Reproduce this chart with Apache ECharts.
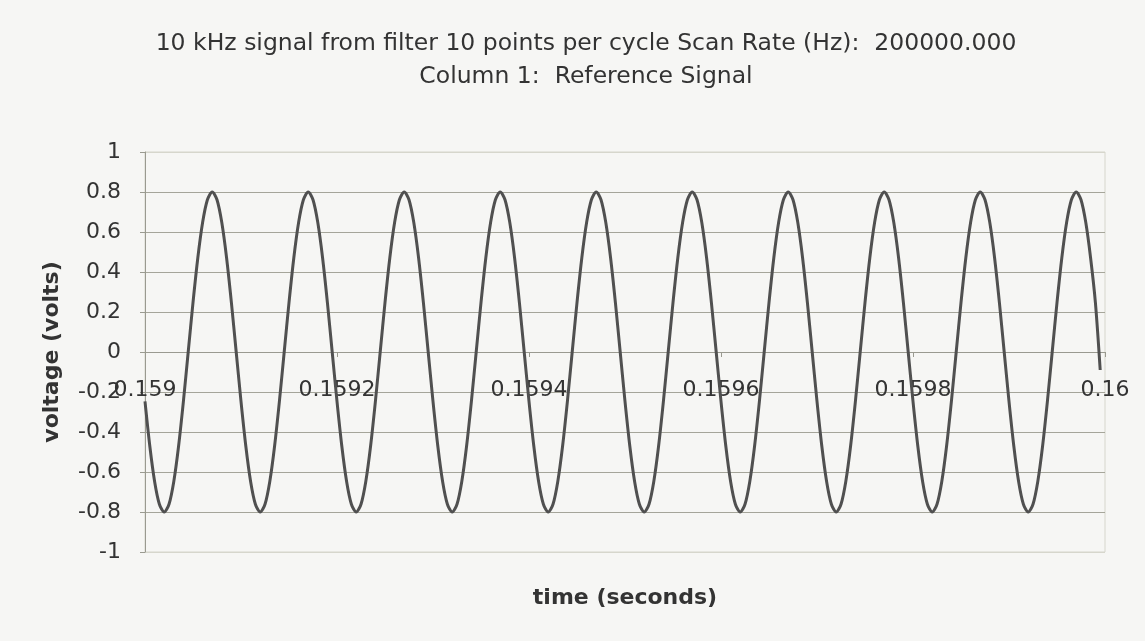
<!DOCTYPE html>
<html>
<head>
<meta charset="utf-8">
<script src="https://cdn.jsdelivr.net/npm/echarts@6/dist/echarts.min.js"></script>
<style>
html, body { margin: 0; padding: 0; background: #f6f6f4; }
#chart { width: 1145px; height: 641px; }
</style>
</head>
<body>
<div id="chart"></div>
<script>
// titles
var titleLines = ['10 kHz signal from filter 10 points per cycle Scan Rate (Hz):  200000.000', 'Column 1:  Reference Signal'];
var xName = 'time (seconds)';
var yName = 'voltage (volts)';

// time column (seconds), one sample every 5 us
var times = [
  0.159000, 0.159005, 0.159010, 0.159015, 0.159020, 0.159025, 0.159030, 0.159035, 0.159040, 0.159045, 0.159050, 0.159055, 0.159060, 0.159065, 0.159070, 0.159075, 0.159080, 0.159085, 0.159090, 0.159095,
  0.159100, 0.159105, 0.159110, 0.159115, 0.159120, 0.159125, 0.159130, 0.159135, 0.159140, 0.159145, 0.159150, 0.159155, 0.159160, 0.159165, 0.159170, 0.159175, 0.159180, 0.159185, 0.159190, 0.159195,
  0.159200, 0.159205, 0.159210, 0.159215, 0.159220, 0.159225, 0.159230, 0.159235, 0.159240, 0.159245, 0.159250, 0.159255, 0.159260, 0.159265, 0.159270, 0.159275, 0.159280, 0.159285, 0.159290, 0.159295,
  0.159300, 0.159305, 0.159310, 0.159315, 0.159320, 0.159325, 0.159330, 0.159335, 0.159340, 0.159345, 0.159350, 0.159355, 0.159360, 0.159365, 0.159370, 0.159375, 0.159380, 0.159385, 0.159390, 0.159395,
  0.159400, 0.159405, 0.159410, 0.159415, 0.159420, 0.159425, 0.159430, 0.159435, 0.159440, 0.159445, 0.159450, 0.159455, 0.159460, 0.159465, 0.159470, 0.159475, 0.159480, 0.159485, 0.159490, 0.159495,
  0.159500, 0.159505, 0.159510, 0.159515, 0.159520, 0.159525, 0.159530, 0.159535, 0.159540, 0.159545, 0.159550, 0.159555, 0.159560, 0.159565, 0.159570, 0.159575, 0.159580, 0.159585, 0.159590, 0.159595,
  0.159600, 0.159605, 0.159610, 0.159615, 0.159620, 0.159625, 0.159630, 0.159635, 0.159640, 0.159645, 0.159650, 0.159655, 0.159660, 0.159665, 0.159670, 0.159675, 0.159680, 0.159685, 0.159690, 0.159695,
  0.159700, 0.159705, 0.159710, 0.159715, 0.159720, 0.159725, 0.159730, 0.159735, 0.159740, 0.159745, 0.159750, 0.159755, 0.159760, 0.159765, 0.159770, 0.159775, 0.159780, 0.159785, 0.159790, 0.159795,
  0.159800, 0.159805, 0.159810, 0.159815, 0.159820, 0.159825, 0.159830, 0.159835, 0.159840, 0.159845, 0.159850, 0.159855, 0.159860, 0.159865, 0.159870, 0.159875, 0.159880, 0.159885, 0.159890, 0.159895,
  0.159900, 0.159905, 0.159910, 0.159915, 0.159920, 0.159925, 0.159930, 0.159935, 0.159940, 0.159945, 0.159950, 0.159955, 0.159960, 0.159965, 0.159970, 0.159975, 0.159980, 0.159985, 0.159990, 0.159995
];

// reference signal (volts)
var volts = [
  -0.247, -0.470, -0.647, -0.761, -0.800, -0.761, -0.647, -0.470, -0.247, 0.000, 0.247, 0.470, 0.647, 0.761, 0.800, 0.761, 0.647, 0.470, 0.247, 0.000,
  -0.247, -0.470, -0.647, -0.761, -0.800, -0.761, -0.647, -0.470, -0.247, 0.000, 0.247, 0.470, 0.647, 0.761, 0.800, 0.761, 0.647, 0.470, 0.247, 0.000,
  -0.247, -0.470, -0.647, -0.761, -0.800, -0.761, -0.647, -0.470, -0.247, 0.000, 0.247, 0.470, 0.647, 0.761, 0.800, 0.761, 0.647, 0.470, 0.247, 0.000,
  -0.247, -0.470, -0.647, -0.761, -0.800, -0.761, -0.647, -0.470, -0.247, 0.000, 0.247, 0.470, 0.647, 0.761, 0.800, 0.761, 0.647, 0.470, 0.247, 0.000,
  -0.247, -0.470, -0.647, -0.761, -0.800, -0.761, -0.647, -0.470, -0.247, 0.000, 0.247, 0.470, 0.647, 0.761, 0.800, 0.761, 0.647, 0.470, 0.247, 0.000,
  -0.247, -0.470, -0.647, -0.761, -0.800, -0.761, -0.647, -0.470, -0.247, 0.000, 0.247, 0.470, 0.647, 0.761, 0.800, 0.761, 0.647, 0.470, 0.247, 0.000,
  -0.247, -0.470, -0.647, -0.761, -0.800, -0.761, -0.647, -0.470, -0.247, 0.000, 0.247, 0.470, 0.647, 0.761, 0.800, 0.761, 0.647, 0.470, 0.247, 0.000,
  -0.247, -0.470, -0.647, -0.761, -0.800, -0.761, -0.647, -0.470, -0.247, 0.000, 0.247, 0.470, 0.647, 0.761, 0.800, 0.761, 0.647, 0.470, 0.247, 0.000,
  -0.247, -0.470, -0.647, -0.761, -0.800, -0.761, -0.647, -0.470, -0.247, 0.000, 0.247, 0.470, 0.647, 0.761, 0.800, 0.761, 0.647, 0.470, 0.247, 0.000,
  -0.247, -0.470, -0.647, -0.761, -0.800, -0.761, -0.647, -0.470, -0.247, 0.000, 0.247, 0.470, 0.647, 0.761, 0.800, 0.761, 0.647, 0.470, 0.247, -0.090
];

var points = times.map(function (t, i) { return [t, volts[i]]; });

var chart = echarts.init(document.getElementById('chart'));
var font = '"DejaVu Sans", sans-serif';

// gridlines from -1 up to 1; the outer two are the faint plot border
var gridColors = ['#d6d6cc', '#a5a59a', '#a5a59a', '#a5a59a', '#a5a59a', '#a5a59a',
                  '#a5a59a', '#a5a59a', '#a5a59a', '#a5a59a', '#d6d6cc'];

var titleStyle = { fill: '#333', font: 'normal 23.5px "DejaVu Sans", sans-serif', align: 'center', verticalAlign: 'middle' };

var option = {
  backgroundColor: '#f6f6f4',
  animation: false,
  // two centred title lines, sitting a little right of the page centre like the original
  graphic: [
    { type: 'text', x: 586, y: 44, style: Object.assign({ text: titleLines[0] }, titleStyle) },
    { type: 'text', x: 586, y: 77, style: Object.assign({ text: titleLines[1] }, titleStyle) }
  ],
  grid: {
    left: 145,
    right: 40,
    top: 152,
    bottom: 89,
    outerBoundsMode: 'none',
    containLabel: false,
    show: true,
    borderColor: '#d6d6cc',
    borderWidth: 1
  },
  xAxis: {
    type: 'value',
    min: 0.159,
    max: 0.16,
    interval: 0.0002,
    // the axis crosses at y = 0, half way up the plot
    offset: -200,
    name: xName,
    nameLocation: 'middle',
    nameGap: 235,
    nameTextStyle: { fontFamily: font, fontSize: 22, fontWeight: 'bold', color: '#333' },
    axisLine: { onZero: false, lineStyle: { color: '#9a9a90', width: 1 } },
    axisTick: { show: true, length: 5, lineStyle: { color: '#9a9a90' } },
    axisLabel: { fontFamily: font, fontSize: 22, color: '#333', margin: 27 },
    splitLine: { show: false }
  },
  yAxis: {
    type: 'value',
    min: -1,
    max: 1,
    interval: 0.2,
    name: yName,
    nameLocation: 'middle',
    nameRotate: 90,
    nameGap: 82,
    nameTextStyle: { fontFamily: font, fontSize: 22, fontWeight: 'bold', color: '#333' },
    axisLine: { show: true, lineStyle: { color: '#9a9a90', width: 1 } },
    axisTick: { show: true, length: 5, lineStyle: { color: '#9a9a90' } },
    axisLabel: {
      fontFamily: font, fontSize: 22, color: '#333', margin: 24,
      formatter: function (v) { return String(Math.round(v * 10) / 10); }
    },
    splitLine: { show: true, lineStyle: { color: gridColors, width: 1 } }
  },
  series: [{
    name: 'Reference Signal',
    type: 'line',
    data: points,
    smooth: 0.3,
    showSymbol: false,
    lineStyle: { color: '#505050', width: 3 }
  }]
};

chart.setOption(option);
</script>
</body>
</html>
